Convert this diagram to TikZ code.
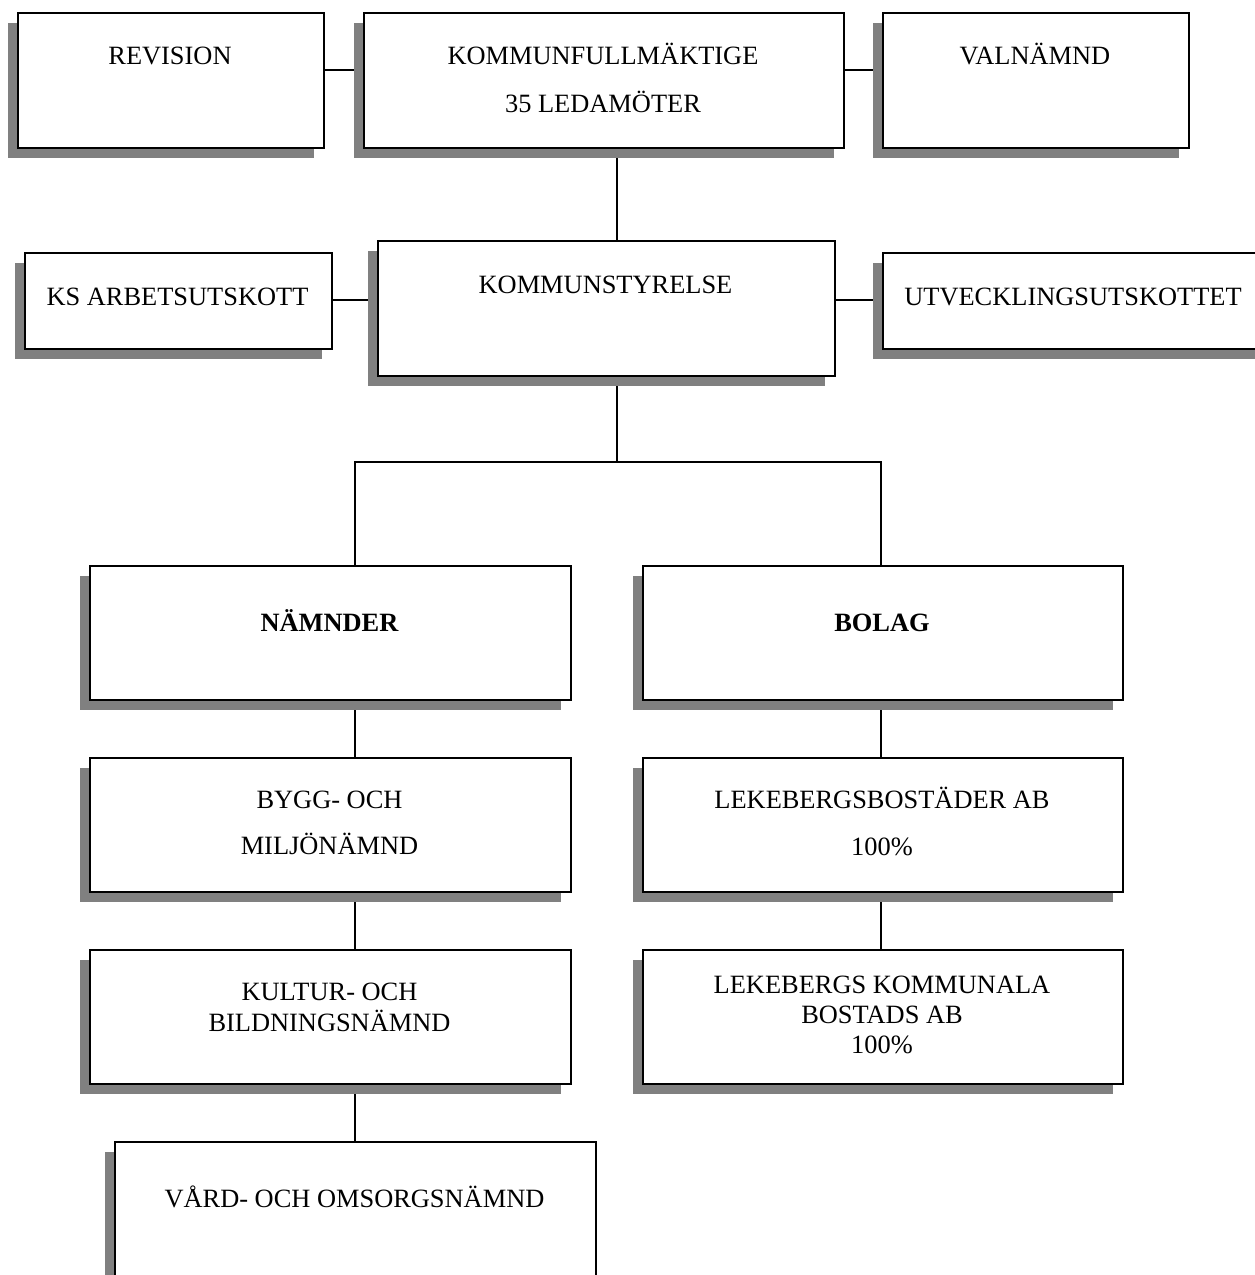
\documentclass[tikz,border=0pt]{standalone}
\usepackage{fontspec}
\setmainfont{Liberation Serif}
\usetikzlibrary{shadows,backgrounds}
\definecolor{shadowgray}{RGB}{128,128,128}
\tikzset{
  box/.style={draw=black, line width=1.6pt, fill=white, rectangle, anchor=north west, inner sep=0pt,
    drop shadow={shadow xshift=-10pt, shadow yshift=-10pt, fill=shadowgray, opacity=1}},
  lbl/.style={anchor=base, inner sep=0pt, font=\fontsize{26.4}{30}\selectfont},
  blbl/.style={anchor=base, inner sep=0pt, font=\fontsize{26.4}{30}\selectfont\bfseries},
  conn/.style={draw=black, line width=1.6pt},
}
\begin{document}
\begin{tikzpicture}[x=1pt,y=-1pt]
\useasboundingbox (0,0) rectangle (1255,1275);
\clip (0,0) rectangle (1255,1275);
% boxes
\node[box, minimum width=306pt, minimum height=135pt] (rev)  at (17,12) {};
\node[box, minimum width=480pt, minimum height=135pt] (kf)   at (363,12) {};
\node[box, minimum width=306pt, minimum height=135pt] (val)  at (882,12) {};
\node[box, minimum width=457pt, minimum height=135pt] (ks)   at (377,240) {};
\node[box, minimum width=307pt, minimum height=96pt]  (ksau) at (24,252) {};
\node[box, minimum width=382pt, minimum height=96pt]  (utv)  at (882,252) {};
\node[box, minimum width=481pt, minimum height=134pt] (nam)  at (89,565) {};
\node[box, minimum width=480pt, minimum height=134pt] (bol)  at (642,565) {};
\node[box, minimum width=481pt, minimum height=134pt] (byg)  at (89,757) {};
\node[box, minimum width=480pt, minimum height=134pt] (lek)  at (642,757) {};
\node[box, minimum width=481pt, minimum height=134pt] (kul)  at (89,949) {};
\node[box, minimum width=480pt, minimum height=134pt] (lkb)  at (642,949) {};
\node[box, minimum width=481pt, minimum height=150pt] (vard) at (114,1141) {};
% texts
\node[lbl] (revT) at (170,64) {REVISION};
\node[lbl] (kfTa) at (603,64) {KOMMUNFULLMÄKTIGE};
\node[lbl] (kfTb) at (603,112) {35 LEDAMÖTER};
\node[lbl] (valT) at (1035,64) {VALNÄMND};
\node[lbl] (ksT) at (605.5,293) {KOMMUNSTYRELSE};
\node[lbl] (ksauT) at (177.5,305) {KS ARBETSUTSKOTT};
\node[lbl] (utvT) at (1073,305) {UTVECKLINGSUTSKOTTET};
\node[blbl] (namT) at (329.5,631) {NÄMNDER};
\node[blbl] (bolT) at (882,631) {BOLAG};
\node[lbl] (bygTa) at (329.5,808) {BYGG- OCH};
\node[lbl] (bygTb) at (329.5,854) {MILJÖNÄMND};
\node[lbl] (lekTa) at (882,808) {LEKEBERGSBOSTÄDER AB};
\node[lbl] (lekTb) at (882,855) {100\%};
\node[lbl] (kulTa) at (329.5,1000) {KULTUR- OCH};
\node[lbl] (kulTb) at (329.5,1031) {BILDNINGSNÄMND};
\node[lbl] (lkbTa) at (882,993) {LEKEBERGS KOMMUNALA};
\node[lbl] (lkbTb) at (882,1023) {BOSTADS AB};
\node[lbl] (lkbTc) at (882,1053) {100\%};
\node[lbl] (vardT) at (354.5,1207) {VÅRD- OCH OMSORGSNÄMND};
% connector guides
\coordinate (topbus) at (0,70);
\coordinate (midbus) at (0,300);
\coordinate (colM) at (617,0);
\coordinate (colL) at (355,0);
\coordinate (colR) at (881,0);
\coordinate (split) at (617,462);
\begin{pgfonlayer}{background}
\draw[conn] (rev.east |- topbus) -- (kf.west |- topbus);
\draw[conn] (kf.east |- topbus) -- (val.west |- topbus);
\draw[conn] (colM |- kf.south) -- (colM |- ks.north);
\draw[conn] (ksau.east |- midbus) -- (ks.west |- midbus);
\draw[conn] (ks.east |- midbus) -- (utv.west |- midbus);
\draw[conn] (colM |- ks.south) -- (split);
\draw[conn] (colL |- nam.north) -- (colL |- split) -- (colR |- split) -- (colR |- bol.north);
\draw[conn] (colL |- nam.south) -- (colL |- byg.north);
\draw[conn] (colL |- byg.south) -- (colL |- kul.north);
\draw[conn] (colL |- kul.south) -- (colL |- vard.north);
\draw[conn] (colR |- bol.south) -- (colR |- lek.north);
\draw[conn] (colR |- lek.south) -- (colR |- lkb.north);
\end{pgfonlayer}
\end{tikzpicture}
\end{document}
